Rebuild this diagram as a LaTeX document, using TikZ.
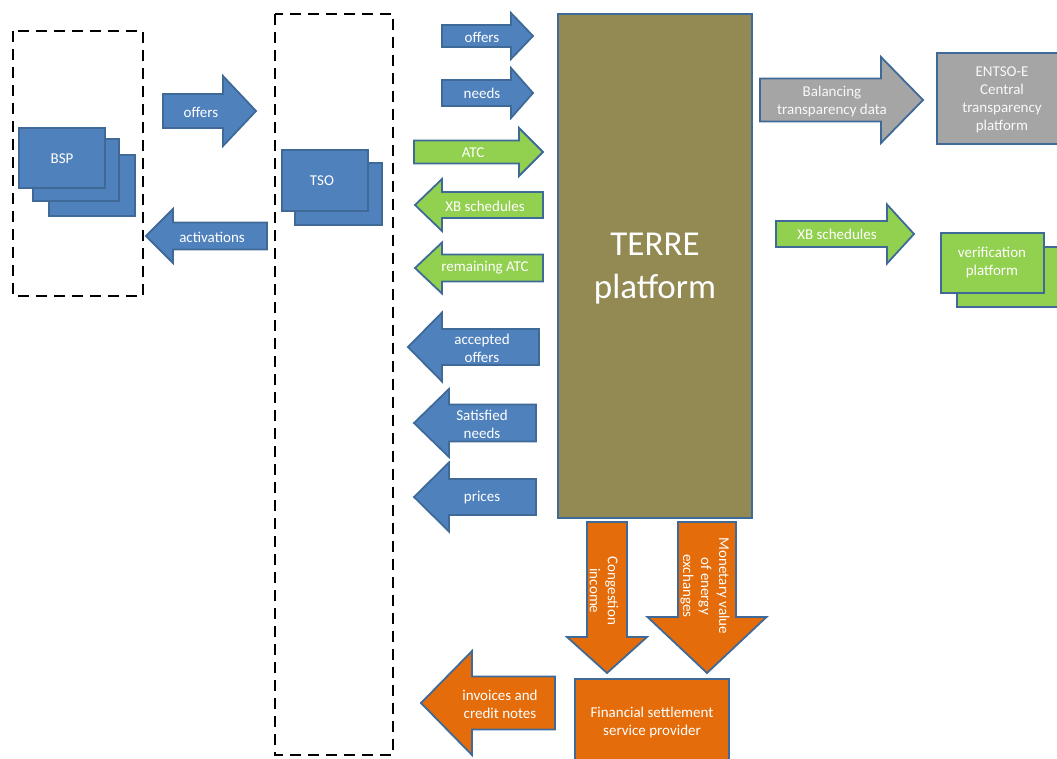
\documentclass[tikz,border=0pt]{standalone}
\usepackage{fontspec}
\setmainfont{Carlito}
\definecolor{cblue}{HTML}{4F81BD}
\definecolor{cgreen}{HTML}{92D050}
\definecolor{corange}{HTML}{E46C0A}
\definecolor{cgray}{HTML}{A5A5A5}
\definecolor{colive}{HTML}{938953}
\definecolor{cedge}{HTML}{3F6A98}
\newcommand\rarr[7]{\draw[#1] (#2,{#5-#6}) -- (#3,{#5-#6}) -- (#3,{#5-#7}) -- (#4,#5) -- (#3,{#5+#7}) -- (#3,{#5+#6}) -- (#2,{#5+#6}) -- cycle;}
\newcommand\larr[7]{\draw[#1] (#4,{#5-#6}) -- (#3,{#5-#6}) -- (#3,{#5-#7}) -- (#2,#5) -- (#3,{#5+#7}) -- (#3,{#5+#6}) -- (#4,{#5+#6}) -- cycle;}
\newcommand\darr[7]{\draw[#1] ({#2-#6},#3) -- ({#2-#6},#4) -- ({#2-#7},#4) -- (#2,#5) -- ({#2+#7},#4) -- ({#2+#6},#4) -- ({#2+#6},#3) -- cycle;}
\tikzset{
  shp/.style={draw=cedge, line width=1.8pt, line join=miter},
  bluesh/.style={shp, fill=cblue},
  greensh/.style={shp, fill=cgreen},
  orangesh/.style={shp, fill=corange},
  graysh/.style={shp, fill=cgray},
  olivesh/.style={shp, fill=colive},
  dbox/.style={draw=black, line width=2.7pt, dash pattern=on 11pt off 7pt},
  lbl/.style={text=white, font=\fontsize{15}{18}\selectfont, align=center, inner sep=0pt},
  glbl/.style={lbl, text=white!95!gray},
}
\begin{document}
\begin{tikzpicture}[x=1pt, y=-1pt]
\useasboundingbox (0,0) rectangle (1057,758);
\clip (0,0) rectangle (1057,758);
% dashed groups
\draw[dbox] (13,31) rectangle (143,296);
\draw[dbox] (275,14) rectangle (393,755);
% BSP stack
\draw[bluesh] (49,155) rectangle (135,216);
\draw[bluesh] (33,139) rectangle (119,201);
\draw[bluesh] (19,128) rectangle (105,188);
\node[lbl] (bsp) at (62,159) {BSP};
% TSO stack
\draw[bluesh] (295,163) rectangle (382,225);
\draw[bluesh] (282,150) rectangle (368,211);
\node[lbl] (tso) at (322,181) {TSO};
% BSP <-> TSO arrows
\rarr{bluesh}{163}{223}{256}{111}{17}{35}
\node[lbl] (offers1) at (201,112) {offers};
\larr{bluesh}{146}{173}{267}{236}{13.5}{27}
\node[lbl] (activations) at (212,237) {activations};
% TERRE platform
\draw[olivesh] (558,14) rectangle (752,518);
\node[lbl, font=\fontsize{35}{43}\selectfont] (terre) at (655,269) {TERRE\\platform};
% arrows to/from TERRE
\rarr{bluesh}{442}{511}{533}{36}{11}{23}
\node[lbl] (offers2) at (482,37) {offers};
\rarr{bluesh}{442}{511}{533}{93}{13}{25}
\node[lbl] (needs) at (482,93) {needs};
\rarr{greensh}{414}{519}{543}{152}{11.5}{24}
\node[lbl] (atc) at (473,153) {ATC};
\larr{greensh}{415}{442}{543}{205}{13}{26}
\node[lbl] (xb1) at (485,206) {XB schedules};
\larr{greensh}{415}{442}{543}{268}{13.5}{25.5}
\node[lbl] (ratc) at (485,268) {remaining ATC};
\larr{bluesh}{408}{442}{539}{347}{18}{34.5}
\node[lbl] (acc) at (482,348) {accepted\\offers};
\larr{bluesh}{414}{449}{536}{423}{18.5}{34}
\node[lbl] (sat) at (482,424) {Satisfied\\needs};
\larr{bluesh}{414}{449}{536}{497}{18}{34.5}
\node[lbl] (prices) at (482,498) {prices};
% right side
\rarr{graysh}{760}{881}{923}{100}{21.5}{43}
\node[glbl] (btd) at (832,101) {Balancing\\transparency data};
\draw[graysh] (937,53) rectangle (1070,144);
\node[glbl] (entsoe) at (1002,100) {ENTSO-E\\Central\\transparency\\platform};
\rarr{greensh}{776}{887}{914}{234}{13}{29.5}
\node[lbl] (xb2) at (837,234) {XB schedules};
\draw[greensh] (957,247) rectangle (1070,307);
\draw[greensh] (941,233) rectangle (1044,293);
\node[lbl] (verif) at (992,263) {verification\\platform};
% bottom
\darr{orangesh}{607}{522}{637}{673}{20}{40}
\node[lbl, rotate=-90] (cong) at (604,591) {Congestion\\income};
\darr{orangesh}{707}{522}{617}{673}{29}{59.5}
\node[lbl, rotate=-90] (mon) at (705,586) {Monetary value\\of energy\\exchanges};
\draw[orangesh] (575,679) rectangle (729,775);
\node[lbl] (fssp) at (652,722) {Financial settlement\\service provider};
\larr{orangesh}{421}{472}{555}{703}{26.5}{52}
\node[lbl] (inv) at (500,704) {invoices and\\credit notes};
\end{tikzpicture}
\end{document}
